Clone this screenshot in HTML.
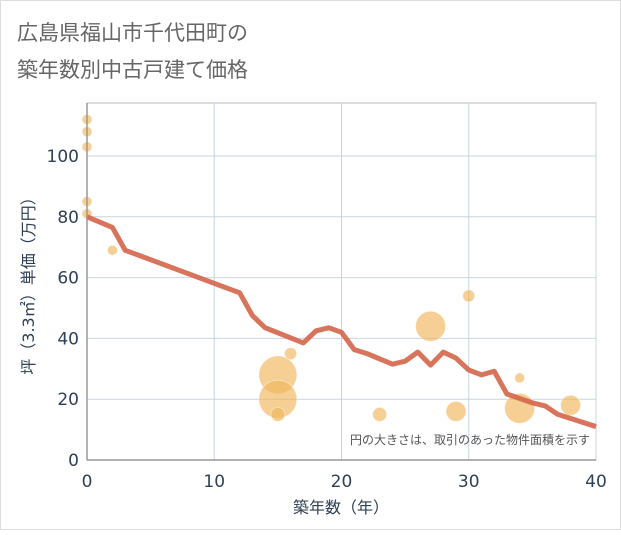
<!DOCTYPE html>
<html><head><meta charset="utf-8"><style>
body{margin:0;background:#fff;}
svg text{font-family:"DejaVu Sans","Noto Sans CJK JP",sans-serif;}
</style></head><body>
<svg width="621" height="530" viewBox="0 0 621 530" id="c">
<rect x="0.5" y="0.5" width="620" height="529" fill="#fff" stroke="#ddd"/>
<text x="17" y="40" font-size="21" fill="#666">広島県福山市千代田町の</text>
<text x="17" y="77" font-size="21" fill="#666">築年数別中古戸建て価格</text>
<g id="grid"></g>
<g id="bubbles"></g>
<g id="line"></g>
<g id="axes"></g>
<text x="590" y="444" font-size="12" fill="#555" text-anchor="end">円の大きさは、取引のあった物件面積を示す</text>
<text x="341" y="513" font-size="16" fill="#2f4055" text-anchor="middle">築年数（年）</text>
<text transform="translate(34,282) rotate(-90)" font-size="16" fill="#2f4055" text-anchor="middle">坪（3.3㎡）単価（万円）</text>
</svg>
<script>
const xTicks=[0,10,20,30,40];
const yTicks=[0,20,40,60,80,100];
const lineYears=[0,2,3,12,13,14,17,18,19,20,21,22,24,25,26,27,28,29,30,31,32,33,35,36,37,40];
const lineValues=[80,76.5,69,55,47.5,43.5,38.5,42.5,43.5,42,36.3,35,31.5,32.5,35.5,31.2,35.5,33.5,29.6,28,29.2,21.7,18.8,17.8,15,11];
const bubbleYears=[0,0,0,0,0,2,15,15,15,16,23,27,29,30,34,34,38];
const bubbleValues=[112,108,103,85,81,69,28,20,15,35,15,44,16,54,27,17,18];
const bubbleRadius=[5,5,5,5,5,5,19,19,7,6,7,15,10,6,5,15,10];
const X0=87,X1=596,Y0=460,Y1=103;
const sx=v=>X0+(v-0)/40*(X1-X0);
const sy=v=>Y0-v*3.04;
const NS="http://www.w3.org/2000/svg";
function mk(t,a,p){const e=document.createElementNS(NS,t);for(const k in a)e.setAttribute(k,a[k]);p.appendChild(e);return e;}
const g=document.getElementById('grid'),ax=document.getElementById('axes');
mk('rect',{x:X0,y:Y1,width:X1-X0,height:Y0-Y1,fill:'none',stroke:'#bbb'},g);
xTicks.forEach(t=>{const l=mk('line',{x1:sx(t),x2:sx(t),y1:Y1,y2:Y0,stroke:'#c8d4e0'},g);


const tx=mk('text',{x:sx(t),y:487,'font-size':17,fill:'#2f4055','text-anchor':'middle'},ax);tx.textContent=t;

});
yTicks.forEach(t=>{const l=mk('line',{x1:X0,x2:X1,y1:sy(t),y2:sy(t),stroke:'#c8d4e0'},g);


const tx=mk('text',{x:79,y:sy(t)+6,'font-size':17,fill:'#2f4055','text-anchor':'end'},ax);tx.textContent=t;

});
mk('line',{x1:X0,x2:X1,y1:Y0,y2:Y0,stroke:'#999','stroke-width':1.5},ax);
mk('line',{x1:X0,x2:X0,y1:Y1,y2:Y0,stroke:'#999','stroke-width':1.5},ax);
const b=document.getElementById('bubbles');
bubbleYears.forEach((yr,i)=>{const c=mk('circle',{cx:sx(yr),cy:sy(bubbleValues[i]),r:bubbleRadius[i],fill:'#f0b65a','fill-opacity':0.65,stroke:'#fff','stroke-opacity':0.4},b);

});
const pts=lineYears.map((y,i)=>sx(y)+','+sy(lineValues[i])).join(' ');
const pl=mk('polyline',{points:pts,fill:'none',stroke:'#d4654a','stroke-opacity':0.9,'stroke-width':5,'stroke-linejoin':'round'},document.getElementById('line'));


</script>
</body></html>
